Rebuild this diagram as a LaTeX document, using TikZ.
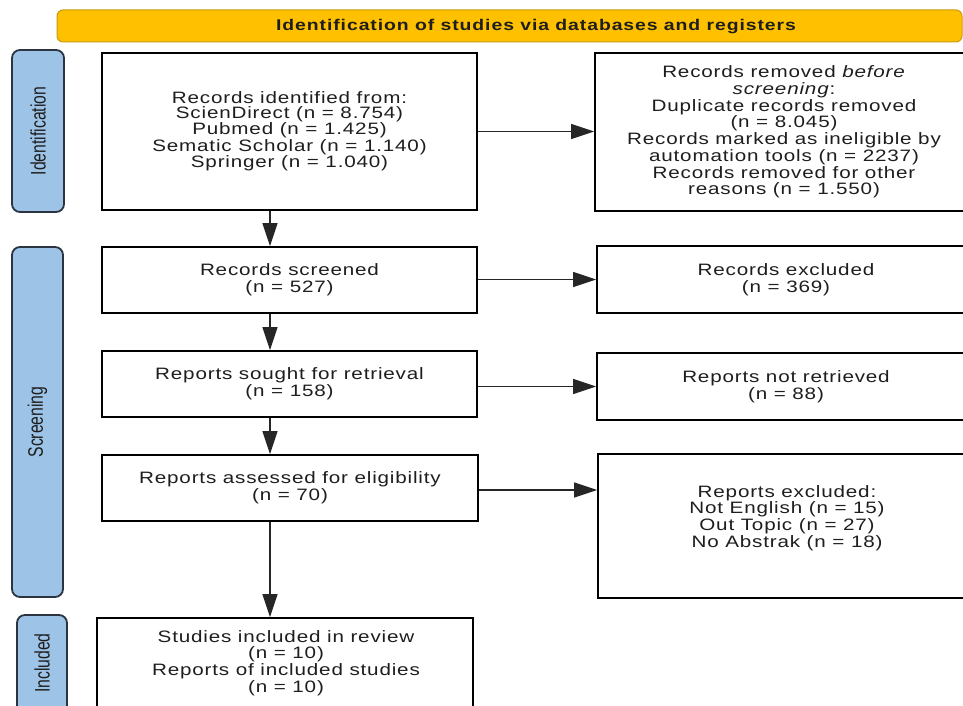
\documentclass[tikz,border=0pt]{standalone}
\usepackage{fontspec}
\setmainfont{Liberation Sans}
\newfontfamily\boxfont[FakeStretch=1.25,LetterSpace=5]{Liberation Sans}
\newfontfamily\sidefont[FakeStretch=0.75]{Liberation Sans}
\newfontfamily\bannerfont[FakeStretch=1.25,LetterSpace=6]{Liberation Sans}
\usetikzlibrary{arrows.meta}
\definecolor{bannerfill}{HTML}{FFC000}
\definecolor{bannerdraw}{HTML}{C99A10}
\definecolor{sidefill}{HTML}{9DC3E6}
\definecolor{sidedraw}{HTML}{2B3440}
\definecolor{txt}{HTML}{1E1E1E}
\begin{document}
\begin{tikzpicture}[x=1pt,y=-1pt,
  stepbox/.style={draw=black, line width=1.8pt, fill=white, inner sep=0pt, align=center, text=txt,
    font=\boxfont\fontsize{16.5}{16.7}\selectfont},
  sidebox/.style={draw=sidedraw, fill=sidefill, line width=1.8pt, rounded corners=8pt, inner sep=0pt},
  sidelabel/.style={rotate=90, text=txt, font=\sidefont\fontsize{21}{21}\selectfont, inner sep=0pt},
  plain/.style={inner sep=0pt, align=center, text=txt, font=\boxfont\fontsize{16.5}{16.7}\selectfont},
  conn/.style={draw=black!85, line width=1.2pt, -{Triangle[length=23pt,width=15pt]}}]
\useasboundingbox (0,0) rectangle (963,706);
\clip (0,0) rectangle (963,706);
\fill[white] (0,0) rectangle (963,706);

% banner
\node[draw=bannerdraw, fill=bannerfill, line width=1pt, rounded corners=6pt,
      minimum width=905pt, minimum height=32pt, inner sep=0pt] (banner) at (509.5,26) {};
\node[inner sep=0pt, text=txt, font=\bannerfont\bfseries\fontsize{15.5}{16}\selectfont] (bannertxt) at (536,27)
  {Identification of studies via databases and registers};

% side boxes
\node[sidebox, minimum width=52pt, minimum height=162pt] (s1) at (38,131) {};
\node[sidelabel] (s1t) at (s1.center) {Identification};
\node[sidebox, minimum width=51pt, minimum height=350pt] (s2) at (37.5,422) {};
\node[sidelabel] (s2t) at (s2.center) {Screening};
\node[sidebox, minimum width=50pt, minimum height=145pt] (s3) at (42,687.5) {};
\node[sidelabel] (s3t) at (42,663) {Included};

% boxes
\node[stepbox, minimum width=375pt, minimum height=157pt, font=\boxfont\fontsize{16.5}{14.8}\selectfont] (b1) at (289.5,131.5)
  {Records identified from:\\ScienDirect (n = 8.754)\\Pubmed (n = 1.425)\\Sematic Scholar (n = 1.140)\\Springer (n = 1.040)};
\node[stepbox, minimum width=378pt, minimum height=158pt] (b2) at (784,132)
  {Records removed \textit{before}\\\textit{screening}:\\Duplicate records removed\\(n = 8.045)\\Records marked as ineligible by\\automation tools (n = 2237)\\Records removed for other\\reasons (n = 1.550)};
\node[stepbox, minimum width=375pt, minimum height=66pt] (b3) at (289.5,280)
  {Records screened\\(n = 527)};
\node[stepbox, minimum width=378pt, minimum height=67pt] (b4) at (786,279.5)
  {Records excluded\\(n = 369)};
\node[stepbox, minimum width=375pt, minimum height=66pt] (b5) at (289.5,384)
  {Reports sought for retrieval\\(n = 158)};
\node[stepbox, minimum width=378pt, minimum height=67pt] (b6) at (786,386.5)
  {Reports not retrieved\\(n = 88)};
\node[stepbox, minimum width=376pt, minimum height=66pt] (b7) at (290,488)
  {Reports assessed for eligibility\\(n = 70)};
\node[stepbox, minimum width=378pt, minimum height=144pt] (b8) at (787,526) {};
\node[plain] (b8t) at (787,518)
  {Reports excluded:\\Not English (n = 15)\\Out Topic (n = 27)\\No Abstrak (n = 18)};
\node[stepbox, minimum width=376pt, minimum height=124pt] (b9) at (285,680) {};
\node[plain] (b9t) at (286,663)
  {Studies included in review\\(n = 10)\\Reports of included studies\\(n = 10)};

% connectors
\coordinate (vx) at (270,0);
\draw[conn] (b1.east) -- (b1.east -| b2.west);
\draw[conn] (b4.west -| b3.east) -- (b4.west);
\draw[conn] (b6.west -| b5.east) -- (b6.west);
\draw[conn] ([yshift=-2pt]b7.east) -- ([yshift=-2pt]b7.east -| b8.west);
\draw[conn] (b1.south -| vx) -- (b3.north -| vx);
\draw[conn] (b3.south -| vx) -- (b5.north -| vx);
\draw[conn] (b5.south -| vx) -- (b7.north -| vx);
\draw[conn] (b7.south -| vx) -- (b9.north -| vx);
\end{tikzpicture}
\end{document}
